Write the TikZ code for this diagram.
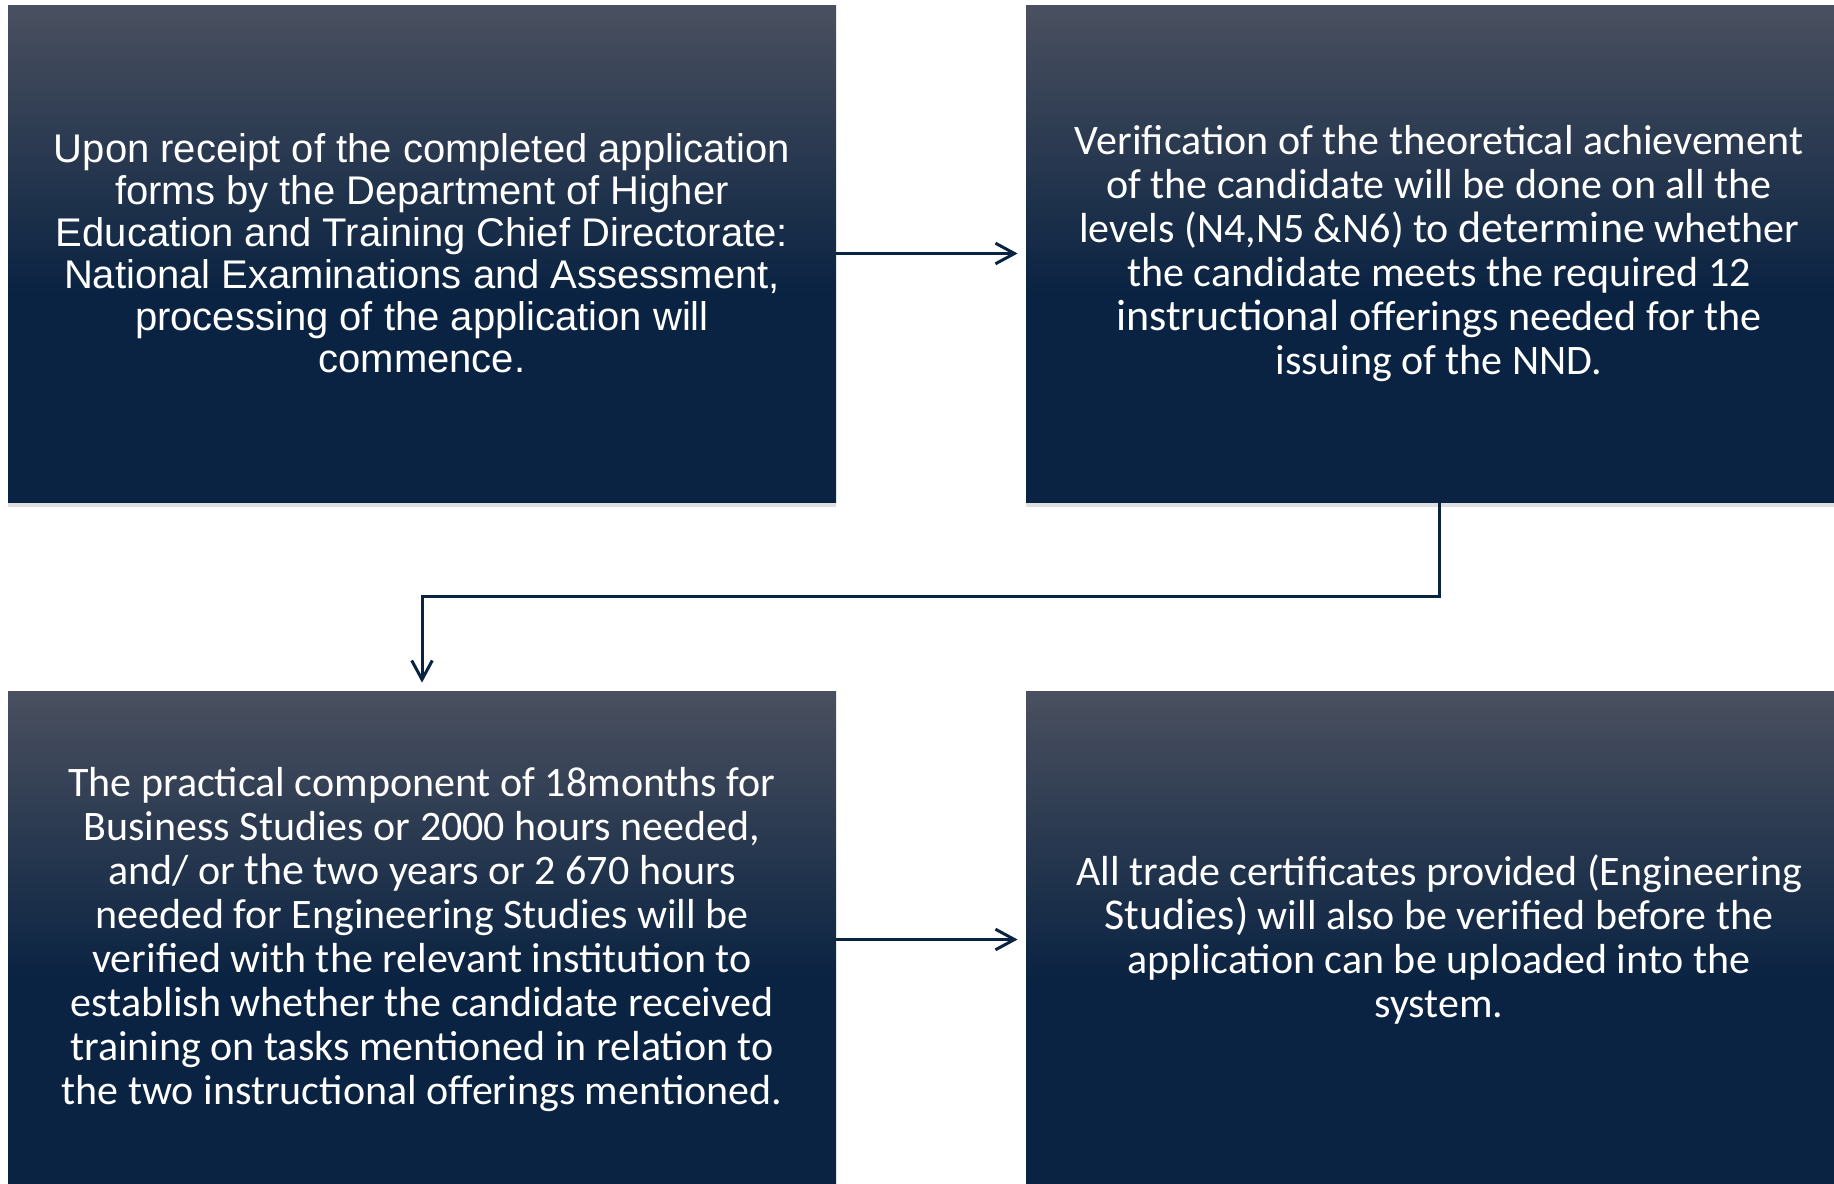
\documentclass[tikz,border=0pt]{standalone}
\usepackage{fontspec}
\setmainfont{Liberation Sans}
\newfontfamily\stepfont{Carlito}
\usetikzlibrary{arrows.meta,shadows}

\definecolor{navy}{RGB}{10,35,66}
\definecolor{slate}{RGB}{74,80,95}
\pgfdeclareverticalshading{boxfade}{100bp}{color(0bp)=(navy); color(25bp)=(navy); color(46bp)=(navy); color(75bp)=(slate); color(100bp)=(slate)}
\newcommand{\bigword}[1]{{\fontsize{22}{22}\selectfont #1}}

\begin{document}
\begin{tikzpicture}[x=0.5pt, y=-0.5pt,
    card/.style={rectangle, inner sep=0pt, minimum height=248.5pt,
      shading=boxfade, text=white, align=center,
      drop shadow={opacity=0.25, shadow xshift=0pt, shadow yshift=-2.5pt}},
    link/.style={draw=navy, line width=1.5pt, shorten >=4pt,
      -{Straight Barb[length=9.5pt, width=10.3pt]}}]
    \path[use as bounding box, clip] (0,0) rectangle (1834,1183);

    \node[card, minimum width=414pt, font=\fontsize{20}{21}\selectfont]
      (receipt) at (422,253.5)
      {Upon receipt of the completed application\\
       forms by the Department of Higher\\
       Education and Training Chief Directorate:\\
       National Examinations and Assessment,\\
       processing of the application will\\
       commence.};
    \node[card, minimum width=413pt, font=\stepfont\fontsize{21}{22}\selectfont]
      (theory) at (1439,253.5)
      {Verification of the theoretical achievement\\
       of the candidate will be done on all the\\
       levels (N4,N5 \&N6) to \bigword{determine} whether\\
       the candidate meets the required 12\\
       \bigword{instructional} offerings needed for the\\
       issuing of the NND.};
    \node[card, minimum width=414pt, font=\stepfont\fontsize{21}{22}\selectfont]
      (practical) at (422,939.5)
      {The practical component of 18months for\\
       Business Studies or 2000 hours needed,\\
       and/ or \bigword{the} two years or 2 670 hours\\
       needed for Engineering Studies will be\\
       verified with the relevant institution to\\
       establish whether the candidate received\\
       training on tasks mentioned in relation to\\
       the two instructional offerings mentioned.};
    \node[card, minimum width=413pt, font=\stepfont\fontsize{21}{22}\selectfont]
      (trade) at (1439,939.5)
      {All trade certificates provided (Engineering\\
       \bigword{Studies)} will also be verified before the\\
       application can be uploaded into the\\
       system.};

    \coordinate (bend) at (1439,596);
    \draw[link] (receipt) -- (theory);
    \draw[link] (theory.south) -- (bend) -| (practical.north);
    \draw[link] (practical) -- (trade);
\end{tikzpicture}
\end{document}
